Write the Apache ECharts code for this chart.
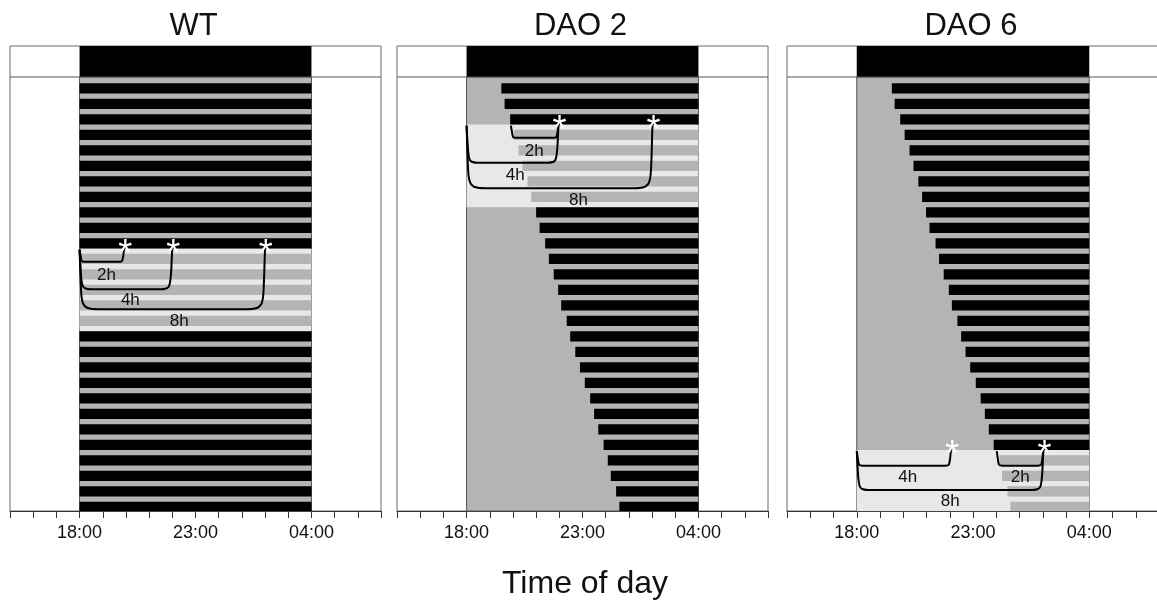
<!DOCTYPE html>
<html><head><meta charset="utf-8">
<script src="https://cdn.jsdelivr.net/npm/echarts@6/dist/echarts.min.js"></script>
<style>html,body{margin:0;padding:0;background:#fff}#c{width:1157px;height:601px}</style>
</head><body><div id="c"></div>
<script>
// ---- data ----
const panelTitles = ['WT', 'DAO 2', 'DAO 6'];
const axisTitle = 'Time of day';
const tickLabels = {18: '18:00', 23: '23:00', 28: '04:00'};   // hour 28 = 04:00 next day
const darkPeriod = [18, 28];                                    // 18:00 -> 04:00
// activity onset (hour) of each of the 28 days; activity ends at 04:00
const wtOnsets   = [18,18,18,18,18,18,18,18,18,18,18,18,18,18,18,18,18,18,18,18,18,18,18,18,18,18,18,18];
const dao2Onsets = [19.50,19.64,19.88,20.03,20.24,20.41,20.63,20.79,21.00,21.15,21.39,21.55,21.76,21.95,22.08,22.32,22.47,22.69,22.89,23.10,23.33,23.50,23.68,23.91,24.09,24.22,24.45,24.59];
const dao6Onsets = [19.51,19.63,19.87,20.06,20.27,20.44,20.65,20.81,20.98,21.13,21.39,21.54,21.74,21.96,22.09,22.33,22.49,22.68,22.88,23.12,23.33,23.51,23.68,23.89,24.14,24.25,24.48,24.61];
// first and last day of the light-pulse block
const wtPulse   = [11, 15];
const dao2Pulse = [3, 7];
const dao6Pulse = [24, 27];
// brackets: [start hour, end hour, depth (row of the horizontal part)]
const wtBrackets   = [[18, 19.93, 11.92], [18, 22, 13.70], [18, 26, 14.99]];
const dao2Brackets = [[19.91, 21.97, 3.92], [18, 21.97, 5.53], [18, 26.02, 7.18]];
const dao6Brackets = [[18, 22.06, 25.08], [24.02, 26.03, 25.08], [18, 26.03, 26.65]];
// bracket labels: [text, hour, row]
const wtLabels   = [['2h', 19.16, 12.77], ['4h', 20.19, 14.39], ['8h', 22.30, 15.79]];
const dao2Labels = [['2h', 20.92, 4.82], ['4h', 20.10, 6.37], ['8h', 22.83, 7.94]];
const dao6Labels = [['4h', 20.19, 25.83], ['2h', 25.03, 25.83], ['8h', 22.02, 27.40]];
// asterisks (hour)
const wtStars   = [19.93, 22.0, 25.99];
const dao2Stars = [21.97, 26.02];
const dao6Stars = [22.06, 26.03];

const panels = [
  {title: panelTitles[0], onsets: wtOnsets, pulse: wtPulse, brackets: wtBrackets, labels: wtLabels, stars: wtStars, left: 10, width: 371},
  {title: panelTitles[1], onsets: dao2Onsets, pulse: dao2Pulse, brackets: dao2Brackets, labels: dao2Labels, stars: dao2Stars, left: 397, width: 371},
  {title: panelTitles[2], onsets: dao6Onsets, pulse: dao6Pulse, brackets: dao6Brackets, labels: dao6Labels, stars: dao6Stars, left: 787, width: 372}
];

const FONT = '"Liberation Sans", Arial, Helvetica, sans-serif';
const GRAY = '#b4b4b4', LIGHT = '#e8e8e8';

function rectRenderer(fill, stroke) {
  return function (params, api) {
    const p0 = api.coord([api.value(0), api.value(2)]);
    const p1 = api.coord([api.value(1), api.value(3)]);
    const style = {fill: fill};
    if (stroke) { style.stroke = stroke; style.lineWidth = 1; }
    return {type: 'rect', shape: {x: p0[0], y: p0[1], width: p1[0] - p0[0], height: p1[1] - p0[1]}, style: style};
  };
}

const grids = [], xAxes = [], yAxes = [], series = [], titles = [];
panels.forEach((p, i) => {
  grids.push({left: p.left, width: p.width, top: 46, height: 465, show: true, borderColor: '#6a6a6a', borderWidth: 1,
    backgroundColor: 'transparent', outerBoundsMode: 'none', containLabel: false});
  xAxes.push({
    type: 'value', gridIndex: i, min: 15, max: 31, interval: 1, position: 'bottom',
    axisLine: {show: true, onZero: false, lineStyle: {color: '#333', width: 1}},
    axisTick: {show: true, length: 7, lineStyle: {color: '#333', width: 1}},
    axisLabel: {formatter: v => tickLabels[v] || '', fontSize: 18, color: '#111', fontFamily: FONT, margin: 13},
    splitLine: {show: false}
  });
  yAxes.push({type: 'value', gridIndex: i, min: -2, max: 28, inverse: true, show: false, splitLine: {show: false}});
  titles.push({text: p.title, left: p.left + p.width / 2 - 2, top: 10.5, textAlign: 'center', padding: 0,
    textStyle: {fontSize: 31, fontWeight: 'normal', color: '#111', fontFamily: FONT}});

  const base = {xAxisIndex: i, yAxisIndex: i, silent: true, animation: false};
  // dark period background
  series.push(Object.assign({}, base, {type: 'custom', renderItem: rectRenderer(GRAY, '#555'),
    data: [[darkPeriod[0], darkPeriod[1], 0, 28]], z: 1}));
  // header bar (lights off)
  series.push(Object.assign({}, base, {type: 'custom', renderItem: rectRenderer('#000'),
    data: [[darkPeriod[0], darkPeriod[1], -2, 0]], z: 2}));
  // header separator
  series.push(Object.assign({}, base, {type: 'line', symbol: 'none', lineStyle: {color: '#555', width: 1},
    data: [[15, 0], [31, 0]], z: 3}));
  // light-pulse block
  series.push(Object.assign({}, base, {type: 'custom', renderItem: rectRenderer(LIGHT),
    data: [[darkPeriod[0], darkPeriod[1], p.pulse[0] + 0.07, Math.min(p.pulse[1] + 1.41, 28)]], z: 4}));
  // activity bars
  const black = [], gray = [];
  p.onsets.forEach((on, k) => {
    const item = [on, darkPeriod[1], k + 0.41, Math.min(k + 1.07, 28)];
    if (k >= p.pulse[0] && k <= p.pulse[1]) gray.push(item); else black.push(item);
  });
  series.push(Object.assign({}, base, {type: 'custom', renderItem: rectRenderer('#000'), data: black, z: 5}));
  series.push(Object.assign({}, base, {type: 'custom', renderItem: rectRenderer(GRAY), data: gray, z: 5}));
  // brackets
  const top = p.pulse[0] + 0.07;
  series.push(Object.assign({}, base, {type: 'custom', z: 6,
    data: p.brackets.map(b => [b[0], b[1], b[2], top]),
    renderItem: function (params, api) {
      const a = api.coord([api.value(0), api.value(3)]);
      const b = api.coord([api.value(1), api.value(2)]);
      const x0 = a[0], x1 = b[0], yt = a[1] + 1, yb = b[1];
      const dep = yb - yt;
      const r = Math.min(dep * 0.4, 24);
      const v = Math.max(dep - r * 1.3, 0);
      const d = `M${x0} ${yt} L${x0 + 1} ${yt + v} C${x0 + 2} ${yb} ${x0 + 2} ${yb} ${x0 + r} ${yb} ` +
                `L${x1 - r} ${yb} C${x1 - 2} ${yb} ${x1 - 2} ${yb} ${x1 - 1} ${yt + v} L${x1} ${yt - 3}`;
      return {type: 'path', shape: {pathData: d}, style: {stroke: '#000', lineWidth: 2, fill: null}};
    }}));
  // bracket labels
  series.push(Object.assign({}, base, {type: 'custom', z: 7,
    data: p.labels.map(l => [l[1], l[2]]),
    renderItem: function (params, api) {
      const c = api.coord([api.value(0), api.value(1)]);
      return {type: 'text', x: c[0], y: c[1], style: {text: p.labels[params.dataIndex][0], fontSize: 17, fontFamily: FONT, fill: '#111', align: 'center', verticalAlign: 'middle'}};
    }}));
  // asterisks
  series.push(Object.assign({}, base, {type: 'custom', z: 8,
    data: p.stars.map(s => [s, top]),
    renderItem: function (params, api) {
      const c = api.coord([api.value(0), api.value(1)]);
      return {type: 'text', x: c[0] + 1, y: c[1] + 6, style: {text: '*', fontSize: 36, fontFamily: FONT, fill: '#fff', align: 'center', verticalAlign: 'middle'}};
    }}));
});

titles.push({text: axisTitle, left: 585, top: 568, textAlign: 'center', padding: 0,
  textStyle: {fontSize: 32, fontWeight: 'normal', color: '#111', fontFamily: FONT}});

const chart = echarts.init(document.getElementById('c'), null, {renderer: 'canvas'});
chart.setOption({animation: false, title: titles, grid: grids, xAxis: xAxes, yAxis: yAxes, series: series});
</script></body></html>
